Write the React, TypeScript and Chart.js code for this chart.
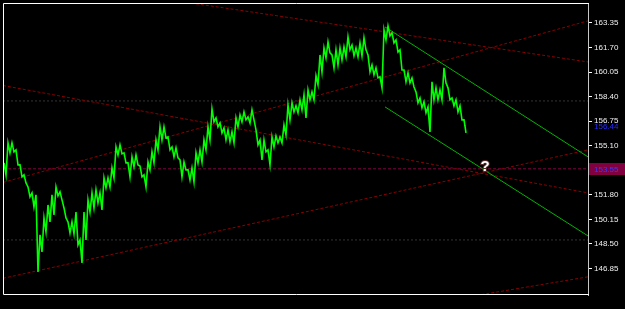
import React, { useEffect, useRef } from 'react';
import { Chart, registerables } from 'chart.js';

Chart.register(...registerables);

// Price samples (one sample = one bar), upper and lower value of each bar
const barHighs = [
  153.95, 155.29, 155.29, 154.82, 153.81, 153.14, 152.33, 151.93, 151.80, 149.11,
  150.25, 151.12, 151.80, 152.33, 152.00, 150.92, 149.98, 149.98, 150.65, 148.77,
  150.65, 151.46, 151.93, 152.13, 151.93, 152.94, 152.94, 153.61, 155.02, 155.16,
  154.62, 153.95, 154.35, 154.48, 153.74, 153.14, 154.01, 154.69, 155.49, 156.37,
  156.37, 155.69, 155.02, 154.95, 154.15, 154.01, 153.48, 153.61, 154.62, 154.82,
  155.49, 156.37, 157.58, 156.97, 156.63, 156.30, 156.16, 156.03, 156.97, 157.17,
  157.37, 157.04, 157.51, 156.16, 155.49, 155.49, 154.82, 155.69, 155.76, 155.69,
  156.50, 157.84, 157.98, 157.78, 158.18, 158.52, 158.85, 158.72, 159.80, 161.20,
  161.67, 162.08, 161.20, 161.54, 161.67, 161.74, 162.41, 161.87, 161.67, 162.01,
  162.35, 161.20, 160.53, 160.33, 159.73, 162.88, 163.15, 162.68, 162.21, 161.54,
  160.19, 159.99, 159.66, 158.72, 158.31, 158.05, 157.71, 159.39, 158.99, 158.85,
  160.33, 158.99, 158.31, 158.18, 157.78, 156.84,
];
const barLows = [
  153.14, 154.62, 154.69, 153.81, 153.01, 152.60, 151.66, 150.99, 146.62, 147.97,
  149.31, 149.98, 150.45, 151.73, 151.46, 150.25, 149.24, 149.18, 148.44, 147.23,
  148.77, 150.65, 150.92, 151.26, 150.79, 152.27, 152.33, 152.94, 154.48, 154.55,
  153.95, 153.01, 153.68, 153.81, 153.01, 152.33, 153.48, 153.95, 154.82, 155.49,
  155.63, 154.82, 154.35, 154.28, 153.01, 153.48, 152.80, 152.67, 153.95, 154.01,
  154.82, 155.49, 156.70, 156.37, 155.96, 155.49, 155.36, 155.29, 156.37, 156.70,
  156.84, 156.63, 156.84, 155.16, 154.15, 154.69, 153.81, 155.02, 155.29, 155.29,
  155.83, 156.84, 157.37, 157.31, 157.51, 156.97, 158.18, 158.18, 159.20, 160.06,
  161.00, 161.34, 160.33, 160.53, 160.87, 161.07, 161.54, 161.14, 161.07, 161.14,
  161.54, 160.06, 159.86, 159.66, 158.99, 162.21, 162.48, 162.01, 161.40, 160.19,
  159.39, 159.32, 159.05, 157.98, 157.64, 157.31, 156.03, 158.18, 158.18, 158.18,
  159.32, 158.18, 157.78, 157.37, 156.84, 155.96,
];
const lastClose = 156.44;
const lastCloseBar = 115.25;
const markerLevel = 153.55;

// Right-hand price axis
const tickValues = [146.85, 148.5, 150.15, 151.8, 153.45, 155.1, 156.75, 158.4, 160.05, 161.7, 163.35];
const priceMin = 145.07;
const priceMax = 164.69;
const barMin = -0.25;
const barMax = 146;

// Horizontal grey levels
const greyLevels = [158.11, 148.77];

// Trend lines: [bar1, price1, bar2, price2]
const redTrendLines = [
  [46.5, 164.7, 146, 160.73],
  [0.25, 159.12, 146, 151.93],
  [0.25, 152.67, 146, 163.49],
  [0.25, 146.22, 146, 154.82],
  [119, 145.08, 146, 146.29],
];
const greenChannel = [
  [95.25, 163.08, 146, 154.35],
  [95.25, 157.71, 146, 149.04],
];
const questionMark = [120.25, 153.65];

function extend(line: number[], fromLeft: boolean) {
  const [x1, y1, x2, y2] = line;
  const k = (y2 - y1) / (x2 - x1);
  const xs = fromLeft ? barMin : x1;
  return [
    { x: xs, y: y1 + k * (xs - x1) },
    { x: barMax, y: y1 + k * (barMax - x1) },
  ];
}

export default function App() {
  const ref = useRef<HTMLCanvasElement | null>(null);

  useEffect(() => {
    document.body.style.margin = '0';
    document.body.style.background = '#000';
    const canvas = ref.current;
    if (!canvas) return;

    const pricePoints: { x: number; y: number }[] = [];
    barHighs.forEach((h, i) => {
      pricePoints.push({ x: i, y: h });
      pricePoints.push({ x: i + 0.5, y: barLows[i] });
    });
    pricePoints.push({ x: lastCloseBar, y: lastClose });

    const common = { pointRadius: 0, borderWidth: 1, tension: 0, fill: false };

    const datasets: any[] = [
      { ...common, data: pricePoints, borderColor: '#00ff00', borderWidth: 1.6 },
      ...greenChannel.map((l) => ({ ...common, data: extend(l, false), borderColor: '#00b400' })),
      ...redTrendLines.map((l) => ({ ...common, data: extend(l, true), borderColor: '#8b0000', borderDash: [3, 2] })),
      {
        ...common,
        data: [{ x: barMin, y: markerLevel }, { x: barMax, y: markerLevel }],
        borderColor: '#800040',
        borderDash: [3, 2],
      },
      ...greyLevels.map((v) => ({
        ...common,
        data: [{ x: barMin, y: v }, { x: barMax, y: v }],
        borderColor: '#333333',
        borderDash: [2, 2],
      })),
    ];

    const overlay = {
      id: 'overlay',
      afterDraw(chart: any) {
        const { ctx, chartArea: a, scales } = chart;
        const ys = scales.y;
        const xs = scales.x;
        ctx.save();
        // frame
        ctx.strokeStyle = '#ffffff';
        ctx.lineWidth = 1;
        ctx.beginPath();
        ctx.moveTo(a.right + 1, a.top + 0.5);
        ctx.lineTo(a.left + 0.5, a.top + 0.5);
        ctx.lineTo(a.left + 0.5, a.bottom - 0.5);
        ctx.lineTo(a.right + 1, a.bottom - 0.5);
        ctx.stroke();

        ctx.font = '8px "Liberation Sans", Arial, sans-serif';
        ctx.textBaseline = 'middle';
        ctx.textAlign = 'left';
        // last price label
        const yc = Math.round(ys.getPixelForValue(lastClose));
        ctx.fillStyle = '#000';
        ctx.fillRect(a.right + 2, yc - 3, 40, 9);
        ctx.fillStyle = '#2a2aff';
        ctx.fillText(lastClose.toFixed(2), a.right + 6, yc + 0.5);
        // marker level label
        const ym = Math.round(ys.getPixelForValue(markerLevel));
        ctx.fillStyle = '#800040';
        ctx.fillRect(a.right + 1, ym - 6, 40, 12);
        ctx.fillStyle = '#3a3aff';
        ctx.fillText(markerLevel.toFixed(2), a.right + 6, ym + 0.5);

        // question mark
        const qx = xs.getPixelForValue(questionMark[0]);
        const qy = ys.getPixelForValue(questionMark[1]);
        ctx.font = 'bold 15px "Liberation Sans", Arial, sans-serif';
        ctx.textAlign = 'center';
        ctx.lineWidth = 2;
        ctx.strokeStyle = '#5a2a2a';
        ctx.strokeText('?', qx, qy);
        ctx.fillStyle = '#ffffff';
        ctx.fillText('?', qx, qy);
        ctx.restore();
      },
    };

    const chart = new Chart(canvas, {
      type: 'line',
      data: { datasets },
      options: {
        animation: false,
        responsive: false,
        maintainAspectRatio: false,
        devicePixelRatio: 1,
        events: [],
        layout: { padding: { left: 3, top: 3, right: 0, bottom: 14 } },
        plugins: { legend: { display: false }, tooltip: { enabled: false } },
        scales: {
          x: { type: 'linear', display: false, min: barMin, max: barMax },
          y: {
            position: 'right',
            min: priceMin,
            max: priceMax,
            afterFit: (s: any) => {
              s.width = 37;
              s.paddingTop = 0;
              s.paddingBottom = 0;
            },
            afterBuildTicks: (s: any) => {
              s.ticks = tickValues.map((v) => ({ value: v }));
            },
            border: { display: true, color: '#c8c8c8', width: 1 },
            grid: { display: true, drawOnChartArea: false, drawTicks: true, tickLength: 4, color: '#ffffff' },
            ticks: {
              color: '#f0f0f0',
              padding: 2,
              autoSkip: false,
              font: { family: '"Liberation Sans", Arial, sans-serif', size: 8 },
              callback: (v: any) => Number(v).toFixed(2),
            },
          },
        },
      },
      plugins: [overlay],
    });

    return () => chart.destroy();
  }, []);

  return (
    <div style={{ width: 625, height: 309, background: '#000' }}>
      <canvas ref={ref} width={625} height={309} style={{ display: 'block' }} />
    </div>
  );
}
